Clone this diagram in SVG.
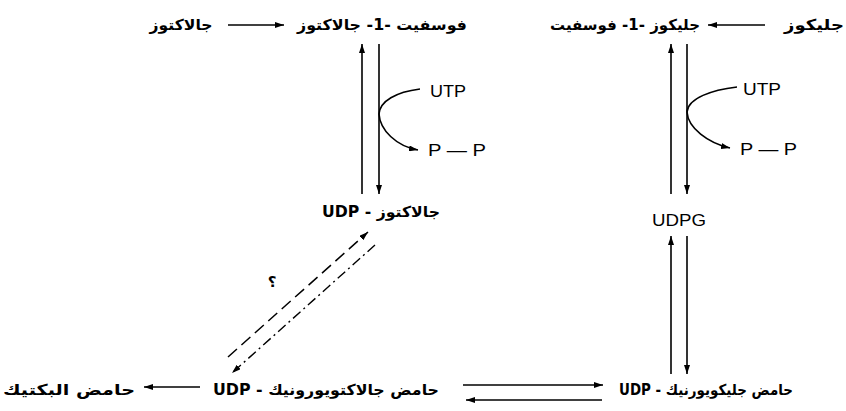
<svg xmlns="http://www.w3.org/2000/svg" width="846" height="411" viewBox="0 0 846 411">
<style>
.ar{font-family:"DejaVu Sans","Noto Sans",sans-serif;font-weight:bold;font-size:15px;fill:#000;direction:rtl;unicode-bidi:embed}
.lt{font-family:"Liberation Sans","DejaVu Sans",sans-serif;font-size:16px;fill:#000}
.ln{stroke:#000;stroke-width:1.6;fill:none}
.dash{stroke:#000;stroke-width:1.5;fill:none;stroke-dasharray:12 6}
.dd{stroke:#000;stroke-width:1.4;fill:none;stroke-dasharray:10 4 2 4}
</style>
<defs>
<marker id="ah" markerUnits="userSpaceOnUse" markerWidth="9" markerHeight="6" refX="9" refY="3" orient="auto">
<path d="M0,0 L9,3 L0,6 z" fill="#000"/>
</marker>
</defs>
<rect width="846" height="411" fill="#fff"/>
<g id="n-galactose"><text class="ar" x="181" y="30" text-anchor="middle" textLength="63" lengthAdjust="spacingAndGlyphs">جالاكتوز</text></g>
<g id="n-gal1p"><text class="ar" x="382" y="30" text-anchor="middle" textLength="170" lengthAdjust="spacingAndGlyphs">فوسفيت -1- جالاكتوز</text></g>
<g id="n-glc1p"><text class="ar" x="625" y="30" text-anchor="middle" textLength="150" lengthAdjust="spacingAndGlyphs">جليكوز -1- فوسفيت</text></g>
<g id="n-glucose"><text class="ar" x="814" y="30" text-anchor="middle" textLength="60" lengthAdjust="spacingAndGlyphs">جليكوز</text></g>
<g id="n-utp1"><text class="lt" x="430" y="97" textLength="36" lengthAdjust="spacingAndGlyphs">UTP</text></g>
<g id="n-pp1"><text class="lt" x="428" y="156" textLength="58" lengthAdjust="spacingAndGlyphs">P — P</text></g>
<g id="n-utp2"><text class="lt" x="743" y="95" textLength="38" lengthAdjust="spacingAndGlyphs">UTP</text></g>
<g id="n-pp2"><text class="lt" x="740" y="155" textLength="57" lengthAdjust="spacingAndGlyphs">P — P</text></g>
<g id="n-udpgal"><text class="ar" x="381" y="217" text-anchor="middle" textLength="118" lengthAdjust="spacingAndGlyphs">جالاكتوز - UDP</text></g>
<g id="n-udpg"><text class="lt" x="679" y="226" text-anchor="middle" textLength="54" lengthAdjust="spacingAndGlyphs">UDPG</text></g>
<g id="n-pectic"><text class="ar" x="69" y="395" text-anchor="middle" textLength="132" lengthAdjust="spacingAndGlyphs">حامض البكتيك</text></g>
<g id="n-udpgala"><text class="ar" x="326" y="395" text-anchor="middle" textLength="226" lengthAdjust="spacingAndGlyphs">حامض جالاكتويورونيك - UDP</text></g>
<g id="n-udpglca"><text class="ar" x="706" y="395" text-anchor="middle" textLength="174" lengthAdjust="spacingAndGlyphs">حامض جليكويورنيك - UDP</text></g>
<g id="connectors">
<line class="ln" x1="228" y1="25" x2="284" y2="25" marker-end="url(#ah)"/>
<line class="ln" x1="765" y1="25" x2="708" y2="25" marker-end="url(#ah)"/>
<line class="ln" x1="362" y1="194" x2="362" y2="44" marker-end="url(#ah)"/>
<line class="ln" x1="379" y1="44" x2="379" y2="194" marker-end="url(#ah)"/>
<path class="ln" d="M420 89 C396 92 380 101 379 114 C380 130 396 146 418 150" marker-end="url(#ah)"/>
<line class="ln" x1="671" y1="194" x2="671" y2="44" marker-end="url(#ah)"/>
<line class="ln" x1="687" y1="44" x2="687" y2="194" marker-end="url(#ah)"/>
<path class="ln" d="M737 87 C712 90 688 98 687 112 C688 128 708 143 730 148" marker-end="url(#ah)"/>
<line class="ln" x1="671" y1="374" x2="671" y2="236" marker-end="url(#ah)"/>
<line class="ln" x1="687" y1="236" x2="687" y2="374" marker-end="url(#ah)"/>
<line class="dash" x1="228" y1="357" x2="368" y2="232" marker-end="url(#ah)"/>
<line class="dd" x1="375" y1="245" x2="232" y2="373" marker-end="url(#ah)"/>
<text class="ar" x="272" y="287" text-anchor="middle" style="font-size:15px">؟</text>
<line class="ln" x1="463" y1="385" x2="603" y2="385" marker-end="url(#ah)"/>
<line class="ln" x1="602" y1="400" x2="466" y2="400" marker-end="url(#ah)" stroke-width="1.3"/>
<line class="ln" x1="200" y1="387" x2="144" y2="387" marker-end="url(#ah)"/>
</g>
</svg>
